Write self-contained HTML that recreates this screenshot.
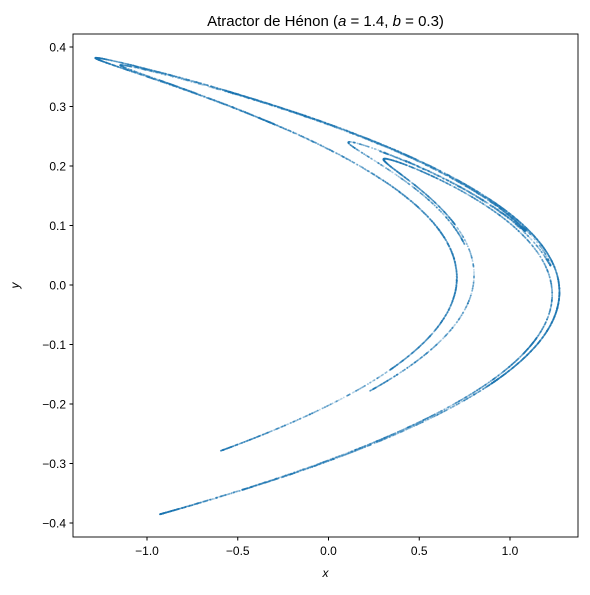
<!DOCTYPE html>
<html><head><meta charset="utf-8">
<style>
body{margin:0;background:#fff;}
svg text{font-family:"Liberation Sans","DejaVu Sans",sans-serif;fill:#000;}
</style></head>
<body>
<svg id="chart" width="590" height="590" viewBox="0 0 590 590" xmlns="http://www.w3.org/2000/svg">
<rect width="590" height="590" fill="#fff"/>
<text x="325.5" y="26" font-size="15" text-anchor="middle">Atractor de Hénon (<tspan font-style="italic">a</tspan> = 1.4, <tspan font-style="italic">b</tspan> = 0.3)</text>
<g id="points"></g>
<g id="axes"></g>
<rect x="73" y="34" width="505" height="503" fill="none" stroke="#000" stroke-width="0.9"/>
<text x="325.5" y="577" font-size="12" font-style="italic" text-anchor="middle">x</text>
<text x="19" y="285.5" font-size="12" font-style="italic" text-anchor="middle" transform="rotate(-90 19 285.5)">y</text>
</svg>
<script>
const params = [1.4, 0.3];
const initialState = [0.1, 0.1];
const iterations = [12000];
const xTicks = [-1.0, -0.5, 0.0, 0.5, 1.0];
const yTicks = [-0.4, -0.3, -0.2, -0.1, 0.0, 0.1, 0.2, 0.3, 0.4];
const xTickLabels = ["−1.0", "−0.5", "0.0", "0.5", "1.0"];
const yTickLabels = ["−0.4", "−0.3", "−0.2", "−0.1", "0.0", "0.1", "0.2", "0.3", "0.4"];

const NS = "http://www.w3.org/2000/svg";
const sx = v => 328.5 + v * 181.5;
const sy = v => 285 - v * 595;

const axes = document.getElementById('axes');
xTicks.forEach((t, i) => {
  const l = document.createElementNS(NS, 'line');
  l.setAttribute('x1', sx(t)); l.setAttribute('x2', sx(t));
  l.setAttribute('y1', 537); l.setAttribute('y2', 540.5);
  l.setAttribute('stroke', '#000');
  
  
  axes.appendChild(l);
  const tx = document.createElementNS(NS, 'text');
  tx.setAttribute('x', sx(t)); tx.setAttribute('y', 555);
  tx.setAttribute('font-size', '12'); tx.setAttribute('text-anchor', 'middle');
  tx.textContent = xTickLabels[i];
  
  
  axes.appendChild(tx);
});
yTicks.forEach((t, i) => {
  const l = document.createElementNS(NS, 'line');
  l.setAttribute('x1', 69.5); l.setAttribute('x2', 73);
  l.setAttribute('y1', sy(t)); l.setAttribute('y2', sy(t));
  l.setAttribute('stroke', '#000');
  
  
  axes.appendChild(l);
  const tx = document.createElementNS(NS, 'text');
  tx.setAttribute('x', 66); tx.setAttribute('y', sy(t) + 4.3);
  tx.setAttribute('font-size', '12'); tx.setAttribute('text-anchor', 'end');
  tx.textContent = yTickLabels[i];
  
  
  axes.appendChild(tx);
});

const g = document.getElementById('points');
let x = initialState[0], y = initialState[1];
const frag = document.createDocumentFragment();
for (let i = 0; i < iterations[0] + 100; i++) {
  const nx = 1 - params[0] * x * x + y;
  const ny = params[1] * x;
  x = nx; y = ny;
  if (i >= 100) {
    const c = document.createElementNS(NS, 'circle');
    c.setAttribute('cx', sx(x).toFixed(1));
    c.setAttribute('cy', sy(y).toFixed(1));
    c.setAttribute('r', '0.9');
    c.setAttribute('fill', '#1f77b4');
    c.setAttribute('fill-opacity', '0.3');
    
    
    frag.appendChild(c);
  }
}
g.appendChild(frag);
</script>
</body></html>
